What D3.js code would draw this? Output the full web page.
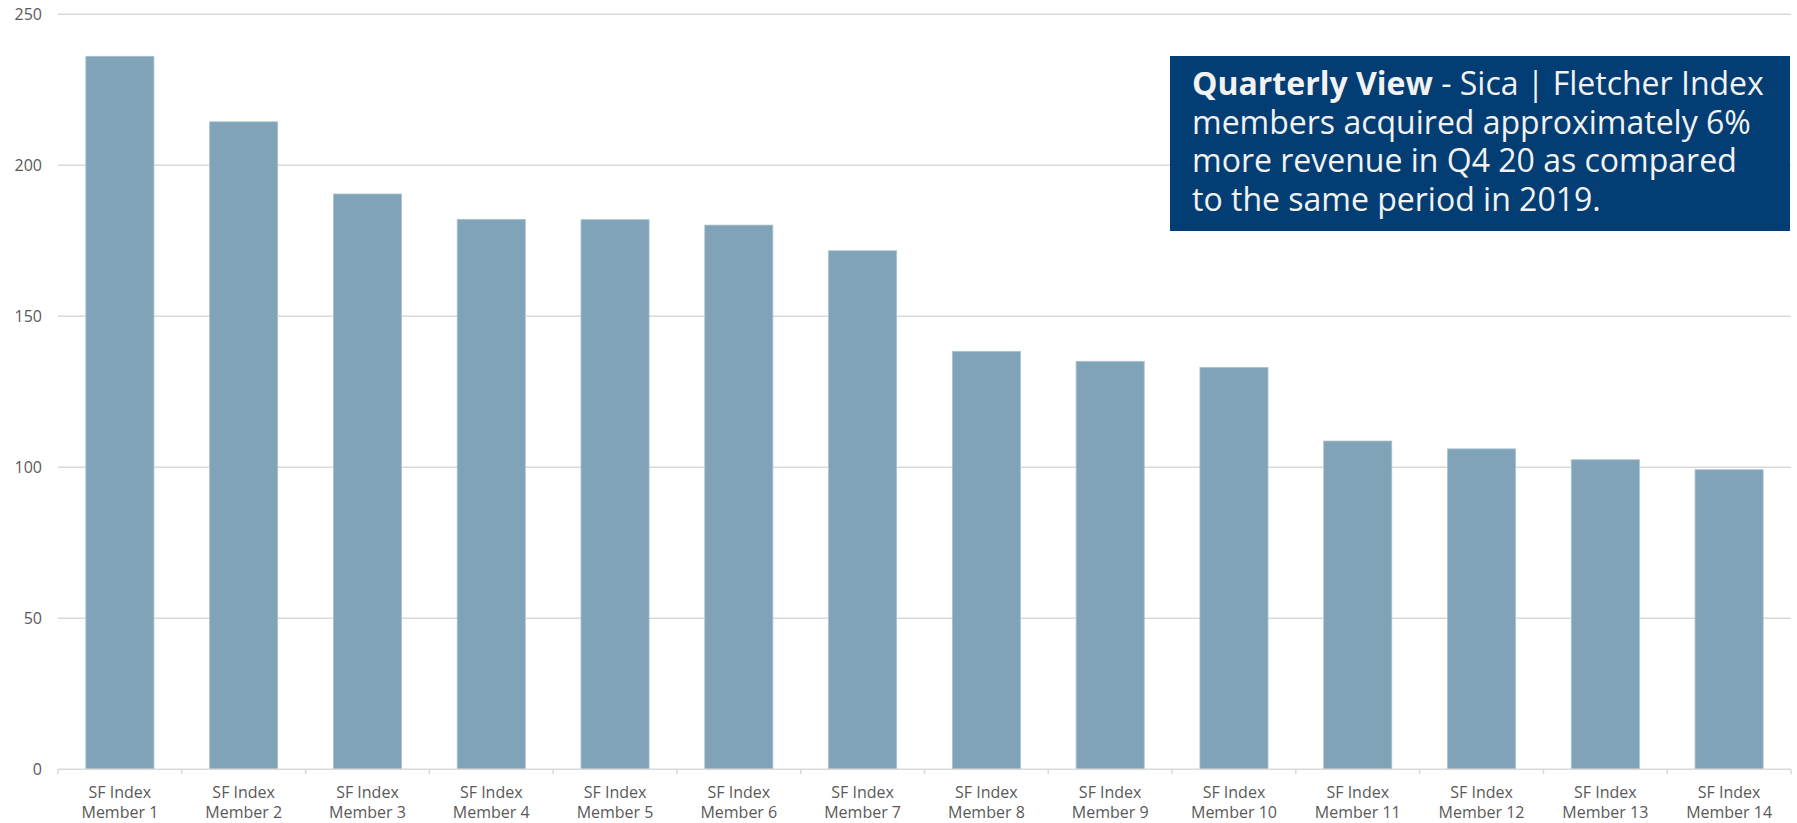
<!DOCTYPE html>
<html>
<head>
<meta charset="utf-8">
<script src="https://cdn.jsdelivr.net/npm/d3@7"></script>
<style>
  html, body { margin: 0; padding: 0; background: #fff; }
  svg { display: block; }
</style>
</head>
<body>
<svg id="chart" width="1797" height="823"></svg>
<script>
const categories = ["Member 1","Member 2","Member 3","Member 4","Member 5","Member 6","Member 7",
  "Member 8","Member 9","Member 10","Member 11","Member 12","Member 13","Member 14"];
const categoryPrefix = "SF Index";
const values = [236.1, 214.4, 190.5, 182.1, 182.0, 180.2, 171.7, 138.4, 135.1, 133.1, 108.7, 106.1, 102.5, 99.2];
const yTicks = [0, 50, 100, 150, 200, 250];
const noteBold = "Quarterly View";
const noteLines = [
  " - Sica | Fletcher Index",
  "members acquired approximately 6%",
  "more revenue in Q4 20 as compared",
  "to the same period in 2019."
];

(function () {
const svg = d3.select("#chart");
const font = "'Open Sans', sans-serif";
const pLeft = 58, pRight = 1791, pTop = 14.3, pBottom = 769.3;

const x = d3.scaleBand().domain(categories).range([pLeft, pRight]).paddingInner(0.45).paddingOuter(0.225);
const y = d3.scaleLinear().domain([0, 250]).range([pBottom, pTop]);

// gridlines
svg.append("g").selectAll("line").data(yTicks.filter(d => d > 0)).join("line")
  .attr("x1", pLeft).attr("x2", pRight)
  .attr("y1", d => y(d)).attr("y2", d => y(d))
  .attr("stroke", "#d9d9d9").attr("stroke-width", 1.5);

// y tick labels
svg.append("g").selectAll("text").data(yTicks).join("text")
  .attr("x", 42).attr("y", d => y(d)).attr("dy", "0.36em")
  .attr("text-anchor", "end")
  .attr("font-family", font).attr("font-size", 16).attr("fill", "#595959")
  .text(d => d);

// bars
svg.append("g").selectAll("rect").data(values).join("rect")
  .attr("x", (d, i) => x(categories[i]))
  .attr("width", x.bandwidth())
  .attr("y", d => y(d))
  .attr("height", d => y(0) - y(d))
  .attr("fill", "#80a3b7")
  .attr("stroke", "#a9c2d0").attr("stroke-width", 0.8);

// x axis line + ticks
svg.append("line").attr("x1", pLeft).attr("x2", pRight).attr("y1", y(0)).attr("y2", y(0))
  .attr("stroke", "#d9d9d9").attr("stroke-width", 1.5);
const gap = (x.step() - x.bandwidth()) / 2;
const bounds = categories.map(c => x(c) - gap).concat([x(categories[categories.length - 1]) + x.bandwidth() + gap]);
svg.append("g").selectAll("line").data(bounds).join("line")
  .attr("x1", d => d).attr("x2", d => d)
  .attr("y1", y(0)).attr("y2", y(0) + 5)
  .attr("stroke", "#d9d9d9").attr("stroke-width", 1.5);

// category labels
const lab = svg.append("g").selectAll("text").data(categories).join("text")
  .attr("text-anchor", "middle")
  .attr("font-family", font).attr("font-size", 16).attr("fill", "#595959");
lab.append("tspan").attr("x", d => x(d) + x.bandwidth() / 2).attr("y", 797.5).text(categoryPrefix);
lab.append("tspan").attr("x", d => x(d) + x.bandwidth() / 2).attr("y", 818).text(d => d);

// annotation box
svg.append("rect").attr("x", 1170).attr("y", 56).attr("width", 620).attr("height", 175)
  .attr("fill", "#023e73");
const note = svg.append("text").attr("font-family", font).attr("font-size", 32).attr("fill", "#f2f2f2");
noteLines.forEach((d, i) => {
  const t = note.append("tspan").attr("x", 1192).attr("y", 95 + i * 38.5);
  if (i === 0) {
    t.append("tspan").attr("font-weight", "bold").text(noteBold);
    t.append("tspan").text(d);
  } else {
    t.text(d);
  }
});
})();
</script>
</body>
</html>
